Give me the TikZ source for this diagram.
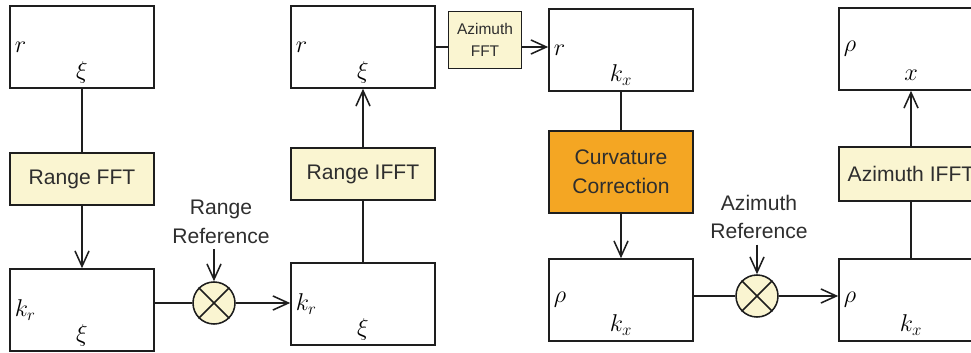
\documentclass[tikz,border=0pt]{standalone}
\usepackage{fontspec}
\setmainfont{Liberation Sans}
\usetikzlibrary{arrows.meta}
\definecolor{paleyellow}{HTML}{FAF5D1}
\definecolor{curvorange}{HTML}{F4A623}
\definecolor{textgray}{HTML}{2E2E2E}
\definecolor{edgegray}{HTML}{1E1E1E}

\begin{document}
\begin{tikzpicture}[x=0.025cm, y=-0.025cm, line width=1.1pt, draw=edgegray,
  databox/.style={draw, fill=white, minimum width=3.6cm, minimum height=2.05cm, inner sep=0pt},
  procbox/.style={draw, fill=paleyellow, minimum width=3.6cm, minimum height=1.3cm, inner sep=0pt,
    align=center, text=textgray, font=\fontsize{15}{20.5}\selectfont},
  refnote/.style={align=center, text=textgray, font=\fontsize{15}{20.5}\selectfont},
  mixer/.style={draw, circle, fill=paleyellow, minimum size=1.05cm, inner sep=0pt},
  varlab/.style={font=\fontsize{18}{20}\selectfont, inner sep=0pt},
  flow/.style={-{Straight Barb[length=11pt,width=10pt]}}
]
\useasboundingbox (0,0) rectangle (971,353);
\clip (0,0) rectangle (971,353);

% signal boxes: name / x / y / left variable / bottom variable
\foreach \name/\cx/\cy/\lvar/\bvar in {b1/82/47/r/\xi, b2/82/310/k_r/\xi, b3/363/304/k_r/\xi,
    b4/363/47/r/\xi, b5/621/50/r/k_x, b6/621/300/\rho/k_x, b7/911/300/\rho/k_x, b8/911/49/\rho/x}{
  \node[databox] (\name) at (\cx,\cy) {};
  \node[varlab, anchor=west] (\name-l) at ([xshift=0.12cm]\name.west) {$\lvar$};
  \node[varlab, anchor=base] (\name-b) at ([yshift=0.25cm]\name.south) {$\bvar$};
}

% processing steps
\node[procbox] (fft) at (82,179) {Range FFT};
\node[procbox] (ifft) at (363,174) {Range IFFT};
\node[procbox, minimum width=1.82cm, minimum height=1.42cm, font=\fontsize{11}{16}\selectfont]
  (azfft) at (485,40) {Azimuth\\FFT};
\node[procbox, fill=curvorange, minimum height=2.05cm] (curv) at (621,172) {Curvature\\Correction};
\node[procbox, minimum height=1.35cm] (azifft) at (911,174) {Azimuth IFFT};

% reference multipliers
\node[mixer] (m1) at (214,303) {};
\node[mixer] (m2) at (757,296) {};
\foreach \m in {m1,m2}{
  \draw (\m.45) -- (\m.225);
  \draw (\m.135) -- (\m.-45);
}
\node[refnote] (ref1) at (221,222) {Range\\Reference};
\node[refnote] (ref2) at (759,217) {Azimuth\\Reference};

% connectors
\draw (b1) -- (fft);
\draw[flow] (fft) -- (b2);
\draw (b2.east |- m1) -- (m1);
\draw[flow] (ref1.south -| m1) -- (m1);
\draw[flow] (m1) -- (b3.west |- m1);
\draw (b3) -- (ifft);
\draw[flow] (ifft) -- (b4);
\draw (b4.east) -- (b4.east -| azfft.west);
\draw[flow] (b4.east -| azfft.east) -- (b4.east -| b5.west);
\draw (b5) -- (curv);
\draw[flow] (curv) -- (b6);
\draw (b6.east |- m2) -- (m2);
\draw[flow] (ref2.south -| m2) -- (m2);
\draw[flow] (m2) -- (b7.west |- m2);
\draw (b7) -- (azifft);
\draw[flow] (azifft) -- (b8);
\end{tikzpicture}
\end{document}
